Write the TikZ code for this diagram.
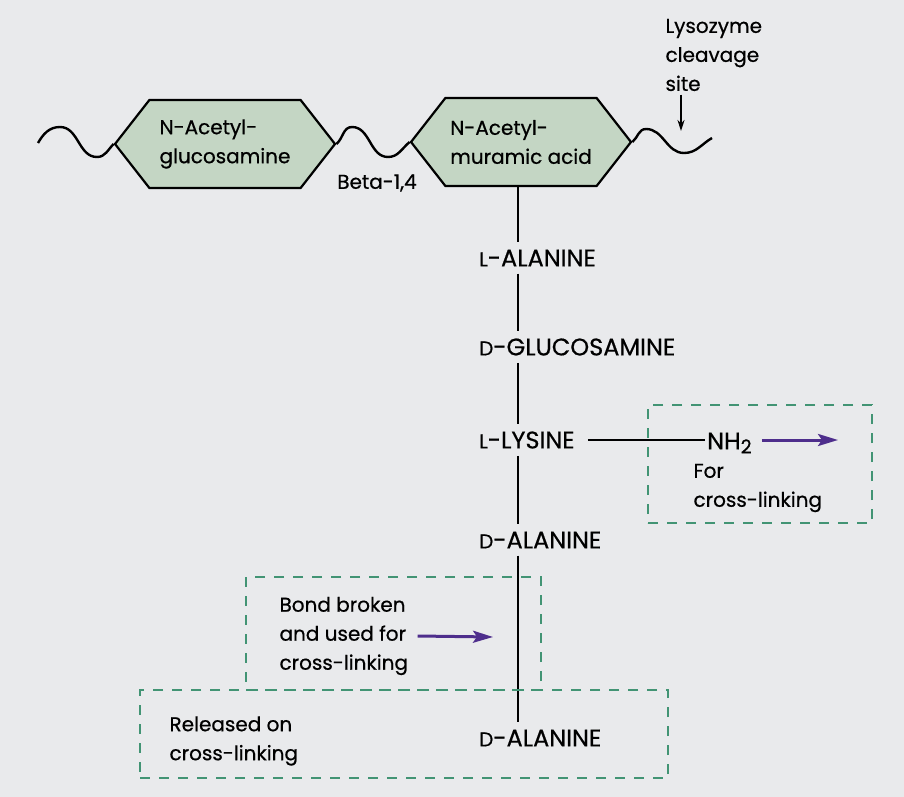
\documentclass[tikz,border=0pt]{standalone}
\usepackage{fontspec}
\setmainfont{Poppins}[FakeBold=0.6]
\usetikzlibrary{positioning,arrows.meta,shapes.symbols}
\definecolor{bgrey}{RGB}{233,234,236}
\definecolor{hexgreen}{RGB}{196,214,196}
\definecolor{boxgreen}{RGB}{66,148,116}
\definecolor{arrowviolet}{RGB}{78,46,140}
\newcommand{\sml}[1]{{\fontsize{20}{20}\selectfont #1}}
\newcommand{\lowtwo}{{\fontsize{19}{19}\selectfont\raisebox{-4pt}{2}}}

\begin{document}
\begin{tikzpicture}[>={Stealth[length=11pt,width=7pt]}, x=1pt, y=-1pt,
  font=\fontsize{20}{29}\selectfont,
  sugar/.style={signal, signal to=west and east, signal pointer angle=104, draw, line width=2.2pt, fill=hexgreen, minimum width=220pt, minimum height=88pt, align=left, inner sep=2pt},
  residue/.style={anchor=west, inner sep=7pt, font=\fontsize{24}{29}\selectfont},
  note/.style={anchor=west, align=left},
  dashbox/.style={draw=boxgreen, line width=2.8pt, dash pattern=on 10pt off 9pt},
  chain/.style={line width=2.4pt},
  violetarrow/.style={-{Stealth[length=20pt,width=12pt,inset=4pt]}, draw=arrowviolet, fill=arrowviolet, line width=3pt}]

  % Page
  \fill[bgrey] (0,0) rectangle (904,797);
  \useasboundingbox (0,0) rectangle (904,797);

  % Sugars
  \node[sugar] (nag) at (225,144) {N-Acetyl-\\glucosamine};
  \node[sugar] (nam) at (521,142) {N-Acetyl-\\muramic acid};
  \node (beta) at (377,183) {Beta-1,4};

  % Glycan strand
  \coordinate (wavestart) at (38,143);
  \coordinate (waveend) at (712,138);
  \draw[chain] (wavestart) to[out=60,in=180] (60,127) to[out=0,in=180] (97,157) to[out=0,in=-135] (nag.west);
  \draw[chain] (nag.east) to[out=40,in=180] (352,127) to[out=0,in=180] (388,157) to[out=0,in=-140] (nam.west);
  \draw[chain] (nam.east) to[out=40,in=180] (646,129) to[out=0,in=180] (684,153) to[out=0,in=-150] (waveend);

  % Lysozyme
  \node[note] (lys) at (662,55) {Lysozyme\\cleavage\\site};
  \coordinate (cut) at (681,131);
  \draw[->, line width=1.8pt] (cut |- lys.south) -- (cut);

  % Peptide
  \coordinate (spine) at (518,0);
  \node[residue] (lala) at (472,258) {\sml{L}-ALANINE};
  \node[residue] (dglu) at (472,347) {\sml{D}-GLUCOSAMINE};
  \node[residue] (llys) at (472,440) {\sml{L}-LYSINE};
  \node[residue] (dala) at (472,540) {\sml{D}-ALANINE};
  \node[residue] (dalb) at (472,738) {\sml{D}-ALANINE};
  \draw[chain] (spine |- nam.south) -- (spine |- lala.north);
  \draw[chain] (spine |- lala.south) -- (spine |- dglu.north);
  \draw[chain] (spine |- dglu.south) -- (spine |- llys.north);
  \draw[chain] (spine |- llys.south) -- (spine |- dala.north);
  \draw[chain] (spine |- dala.south) -- (spine |- dalb.north);

  % Cross-link side chain
  \node[residue, inner sep=2pt] (nh) at (705,443) {NH\lowtwo};
  \draw[chain] (llys.east) ++(6,0) -- (nh.west |- llys.east);
  \coordinate (nhend) at (838,440);
  \draw[violetarrow] (nh.east |- nhend) ++(8,0) -- (nhend);
  \node[note] (forx) at (690,488) {For\\cross-linking};
  \node[dashbox, minimum width=224pt, minimum height=118pt] (xbox) at (760,464) {};

  % Terminal alanine
  \node[note] (bond) at (276,636) {Bond broken\\and used for\\cross-linking};
  \coordinate (bondend) at (493,637);
  \draw[violetarrow] (bond.east) ++(6,0) -- (bondend);
  \node[dashbox, minimum width=295pt, minimum height=113pt] (bbox) at (393.5,633.5) {};
  \node[note] (rel) at (166,741) {Released on\\cross-linking};
  \node[dashbox, minimum width=528pt, minimum height=88pt] (rbox) at (404,734) {};

\end{tikzpicture}
\end{document}
